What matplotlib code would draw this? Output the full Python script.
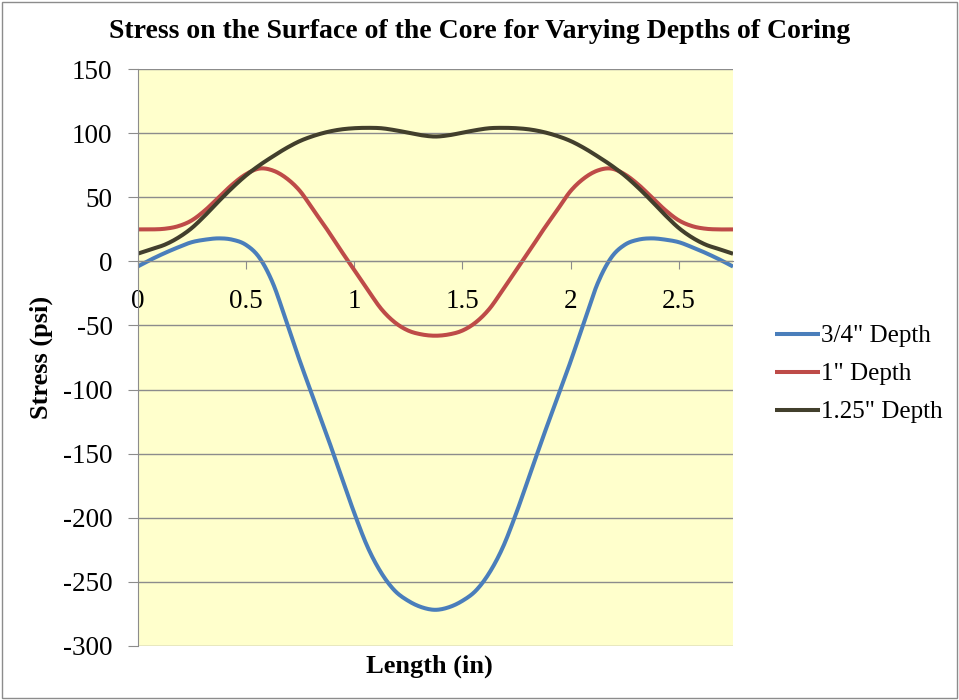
import matplotlib
matplotlib.use("Agg")
import matplotlib.pyplot as plt
from matplotlib.patches import Rectangle
import numpy as np

# ---- data ----
length_in = [0, 0.0625, 0.125, 0.1875, 0.25, 0.3125, 0.375, 0.4375, 0.5, 0.5625,
             0.625, 0.6875, 0.75, 0.8125, 0.875, 0.9375, 1.0, 1.0625, 1.125, 1.1875,
             1.25, 1.3125, 1.375, 1.4375, 1.5, 1.5625, 1.625, 1.6875, 1.75, 1.8125,
             1.875, 1.9375, 2.0, 2.0625, 2.125, 2.1875, 2.25, 2.3125, 2.375, 2.4375,
             2.5, 2.5625, 2.625, 2.6875, 2.75]

depth_075 = [-4, 1.5, 6.5, 11, 15, 17, 18, 17, 13, 3,
             -17, -47, -78, -107, -136, -166, -196, -223, -243, -257,
             -265, -270, -272, -270, -265, -257, -243, -223, -196, -166,
             -136, -107, -78, -47, -17, 3, 13, 17, 18, 17,
             15, 11, 6.5, 1.5, -4]

depth_100 = [25, 25, 25.5, 27.5, 32, 40, 50, 60, 68, 72.5,
             71, 65, 55, 40, 25, 9, -6.5, -22, -37, -47.5,
             -54, -57, -58, -57, -54, -47.5, -37, -22, -6.5, 9,
             25, 40, 55, 65, 71, 72.5, 68, 60, 50, 40,
             32, 27.5, 25.5, 25, 25]

depth_125 = [6, 9.5, 13, 18.5, 26, 36, 47, 57.5, 67, 75,
             82, 88.5, 94, 98, 101, 103, 104, 104.3, 104, 102.5,
             100.5, 98.5, 97.5, 98.5, 100.5, 102.5, 104, 104.3, 104, 103,
             101, 98, 94, 88.5, 82, 75, 67, 57.5, 47, 36,
             26, 18.5, 13, 9.5, 6]

series_labels = ['3/4" Depth', '1" Depth', '1.25" Depth']
series_colors = ['#4A7EBB', '#BE4B48', '#423F2C']

title = "Stress on the Surface of the Core for Varying Depths of Coring"
xlabel = "Length (in)"
ylabel = "Stress (psi)"
xticks = [0, 0.5, 1, 1.5, 2, 2.5]
xtick_labels = ["0", "0.5", "1", "1.5", "2", "2.5"]
yticks = [150, 100, 50, 0, -50, -100, -150, -200, -250, -300]


def smooth_path(x, y, n=12):
    """Catmull-Rom rendering of a smoothed line (like a spreadsheet 'smoothed line')."""
    x = np.asarray(x, float)
    y = np.asarray(y, float)
    px = np.concatenate([[2 * x[0] - x[1]], x, [2 * x[-1] - x[-2]]])
    py = np.concatenate([[2 * y[0] - y[1]], y, [2 * y[-1] - y[-2]]])
    t = np.linspace(0, 1, n, endpoint=False)
    xs, ys = [], []
    for i in range(1, len(px) - 2):
        for P, out in ((px, xs), (py, ys)):
            p0, p1, p2, p3 = P[i - 1], P[i], P[i + 1], P[i + 2]
            out.extend(0.5 * ((2 * p1) + (-p0 + p2) * t + (2 * p0 - 5 * p1 + 4 * p2 - p3) * t ** 2
                              + (-p0 + 3 * p1 - 3 * p2 + p3) * t ** 3))
    xs.append(x[-1])
    ys.append(y[-1])
    return xs, ys


# ---- figure ----
plt.rcParams['font.family'] = ['Liberation Serif', 'DejaVu Serif']
plt.rcParams['axes.unicode_minus'] = False
fig = plt.figure(figsize=(9.59, 7.0), dpi=100)
fig.patch.set_facecolor('white')
fig.patches.append(Rectangle((0.002, 0.003), 0.996, 0.994, transform=fig.transFigure,
                             fill=False, edgecolor='#8C8C8C', linewidth=1.0))

ax = fig.add_axes([0.1434, 0.0776, 0.6210, 0.8234])
ax.set_facecolor('#FFFFCC')

for ys, lab, col in zip([depth_075, depth_100, depth_125], series_labels, series_colors):
    sx, sy = smooth_path(length_in, ys)
    ax.plot(sx, sy, color=col, linewidth=2.9, label=lab,
            solid_capstyle='butt', solid_joinstyle='round')

ax.set_xlim(0, 2.75)
ax.set_ylim(-300, 150)
ax.set_yticks(yticks)
ax.set_xticks(xticks)
ax.set_xticklabels(xtick_labels)
ax.yaxis.grid(True, color='#8C8C8C', linewidth=1.0)
ax.set_axisbelow(True)

for s in ['top', 'right']:
    ax.spines[s].set_visible(False)
ax.spines['left'].set_color('#8C8C8C')
ax.spines['bottom'].set_position(('data', 0))
ax.spines['bottom'].set_color('#8C8C8C')

ax.tick_params(axis='y', direction='out', length=7, color='#8C8C8C', labelsize=19.5, pad=11)
ax.tick_params(axis='x', direction='out', length=6, color='#8C8C8C', labelsize=19.5, pad=14)

fig.text(0.5, 1 - 31 / 700, title, fontsize=20, fontweight='bold', ha='center', va='center')
ax.set_xlabel(xlabel, fontsize=19, fontweight='bold')
ax.xaxis.set_label_coords(0.49, -0.016)
ax.set_ylabel(ylabel, fontsize=19, fontweight='bold')
ax.yaxis.set_label_coords(-0.142, 0.5)

leg = fig.legend(handles=ax.get_lines(), labels=series_labels, loc='center left',
                 bbox_to_anchor=(775 / 959, 1 - 374 / 700), bbox_transform=fig.transFigure,
                 frameon=False, fontsize=18, handlelength=1.8, handletextpad=0.05,
                 labelspacing=0.62, borderpad=0, borderaxespad=0)

fig.savefig('out.png', dpi=100, facecolor='white')
